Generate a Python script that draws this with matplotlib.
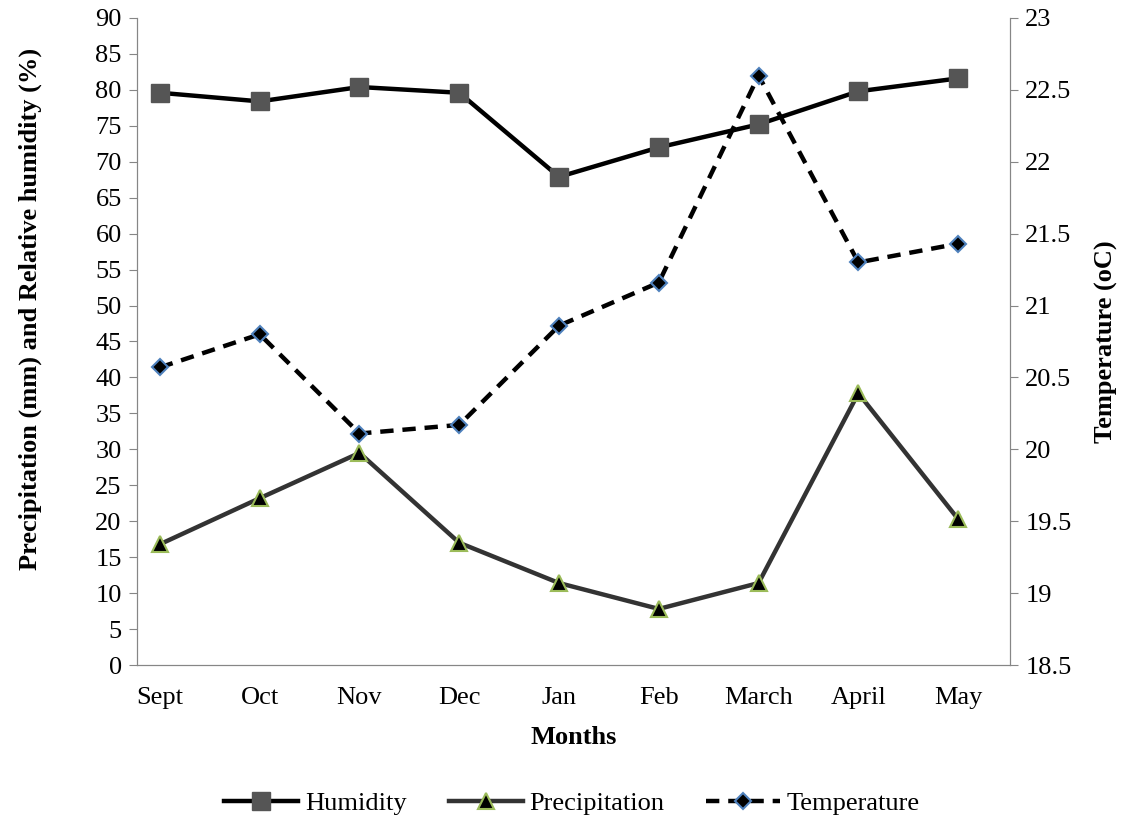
import numpy as np
import matplotlib.pyplot as plt

plt.rcParams['font.family'] = ['Liberation Serif', 'DejaVu Serif']

months = ["Sept", "Oct", "Nov", "Dec", "Jan", "Feb", "March", "April", "May"]
humidity = [79.6, 78.4, 80.4, 79.6, 67.9, 72.0, 75.2, 79.8, 81.6]
precipitation = [16.8, 23.2, 29.5, 17.0, 11.4, 7.8, 11.4, 37.8, 20.3]
temperature = [20.57, 20.80, 20.11, 20.17, 20.86, 21.16, 22.60, 21.30, 21.43]

x = np.arange(len(months))
grey = "#868686"

fig = plt.figure(figsize=(11.22, 8.25), dpi=100)
ax1 = fig.add_axes([137/1122, 1 - 665/825, 873/1122, 647/825])
ax2 = ax1.twinx()

l1, = ax1.plot(x, humidity, color="black", lw=3.2, marker="s", ms=13,
               mfc="#555555", mec="#555555", label="Humidity")
l2, = ax1.plot(x, precipitation, color="#333333", lw=3.2, marker="^", ms=11,
               mfc="black", mec="#9bbb59", mew=1.5, label="Precipitation")
l3, = ax2.plot(x, temperature, color="black", lw=3.2, ls=(0, (3, 2)), marker="D", ms=8,
               mfc="black", mec="#4f81bd", mew=1.5, label="Temperature")

ax1.set_xlim(-0.23, 8.52)
ax1.set_ylim(0, 90)
ax1.set_yticks(np.arange(0, 91, 5))
ax2.set_ylim(18.5, 23)
ax2.set_yticks(np.arange(18.5, 23.01, 0.5))
ax2.set_yticklabels([f"{v:g}" for v in np.arange(18.5, 23.01, 0.5)])
ax1.set_xticks(x)
ax1.set_xticklabels(months)

for ax in (ax1, ax2):
    ax.spines["top"].set_visible(False)
    for s in ("left", "right", "bottom"):
        ax.spines[s].set_color(grey)
    ax.tick_params(axis="both", colors=grey, labelcolor="black", labelsize=19,
                   direction="out", length=6, pad=5)
ax1.tick_params(axis="x", length=0, pad=16)

ax1.set_xlabel("Months", fontsize=19, fontweight="bold", labelpad=12)
ax1.set_ylabel("Precipitation (mm) and Relative humidity (%)", fontsize=19,
               fontweight="bold")
ax1.yaxis.set_label_coords(-0.109, 0.55)
ax2.set_ylabel("Temperature (oC)", fontsize=19, fontweight="bold")
ax2.yaxis.set_label_coords(1.097, 0.5)

fig.legend(handles=[l1, l2, l3], loc="center", bbox_to_anchor=(0.51, 1 - 803/825),
           ncol=3, frameon=False, fontsize=19, handlelength=2.8, handletextpad=0.25,
           columnspacing=1.6)

fig.savefig("out.png", dpi=100)
